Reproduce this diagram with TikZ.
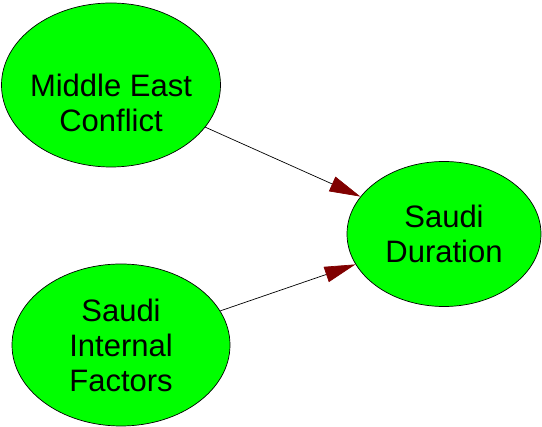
\documentclass[tikz,border=0pt]{standalone}
\usepackage{fontspec}
\setmainfont{Liberation Sans}
\usepackage{tikz}
\usetikzlibrary{shapes.geometric, arrows.meta}
\definecolor{nodegreen}{RGB}{0,255,0}
\definecolor{tipred}{RGB}{128,0,0}

\begin{document}
\begin{tikzpicture}[x=1pt,y=-1pt,
  var/.style={draw,ellipse,fill=nodegreen,inner sep=-10pt,line width=0.7pt,
              align=center,font=\fontsize{31}{35}\selectfont},
  arr/.style={-{Triangle[length=31pt,width=16pt,color=tipred]},line width=0.7pt}
]
\useasboundingbox (0,0) rectangle (542,427);
\node[var,minimum width=219pt,minimum height=164pt,text height=94pt] (mec) at (111,85) {Middle East\\Conflict};
\node[var,minimum width=218pt,minimum height=162pt] (sif) at (121,345) {Saudi\\Internal\\Factors};
\node[var,minimum width=194pt,minimum height=145pt] (sd)  at (444,234) {Saudi\\Duration};

\draw[arr] (mec)--(sd);
\draw[arr] (sif)--(sd);
\end{tikzpicture}
\end{document}
